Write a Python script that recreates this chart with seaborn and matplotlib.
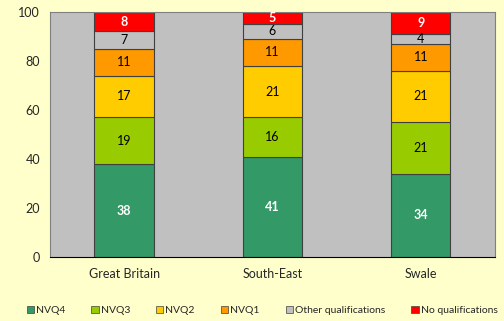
import matplotlib
matplotlib.use("Agg")
import matplotlib.pyplot as plt
import seaborn as sns
from matplotlib.patches import Patch

areas = ["Great Britain", "South-East", "Swale"]
series = ["NVQ4", "NVQ3", "NVQ2", "NVQ1", "Other qualifications", "No qualifications"]
nvq4 = [38, 41, 34]
nvq3 = [19, 16, 21]
nvq2 = [17, 21, 21]
nvq1 = [11, 11, 11]
other = [7, 6, 4]
noqual = [8, 5, 9]
values = [nvq4, nvq3, nvq2, nvq1, other, noqual]
colors = ["#339966", "#99CC00", "#FFCC00", "#FF9900", "#C0C0C0", "#FF0000"]
label_colors = ["white", "black", "black", "black", "black", "white"]
label_weights = ["bold", "normal", "normal", "normal", "normal", "bold"]

sns.set_style("white")
plt.rcParams["font.family"] = ["Lato", "DejaVu Sans"]

fig = plt.figure(figsize=(5.04, 3.21), dpi=100, facecolor="#FFFFCC")
ax = fig.add_axes([0.099, 0.199, 0.883, 0.764])
ax.set_facecolor("#C0C0C0")

bottom = [0, 0, 0]
for i, vals in enumerate(values):
    sns.barplot(x=areas, y=vals, bottom=bottom, color=colors[i], width=0.4,
                edgecolor="#404040", linewidth=0.8, saturation=1, ax=ax)
    ax.bar_label(ax.containers[-1], label_type="center", fontsize=9,
                 color=label_colors[i], fontweight=label_weights[i])
    bottom = [b + v for b, v in zip(bottom, vals)]

ax.set_xlim(-0.5, 2.5)
ax.set_ylim(0, 100)
ax.set_yticks([0, 20, 40, 60, 80, 100])
ax.tick_params(axis="y", length=0, labelsize=9, pad=7)
ax.tick_params(axis="x", which="major", length=0, labelsize=9, pad=8)
ax.set_xticks([-0.5, 0.5, 1.5, 2.5], minor=True)
ax.tick_params(axis="x", which="minor", length=4, color="black", width=0.8)
for s in ["top", "right", "left"]:
    ax.spines[s].set_color("#808080")
    ax.spines[s].set_linewidth(0.8)
ax.spines["bottom"].set_color("black")
ax.spines["bottom"].set_linewidth(0.8)
ax.set_xlabel("")
ax.set_ylabel("")

handles = [Patch(facecolor=c, edgecolor="#404040", linewidth=0.5) for c in colors]
fig.legend(handles, series, loc="lower center", bbox_to_anchor=(0.52, -0.01), ncol=6,
           frameon=False, fontsize=7.5, handlelength=0.7, handleheight=0.7,
           handletextpad=0.2, columnspacing=2.5)

fig.savefig("out.png", dpi=100, facecolor=fig.get_facecolor())
